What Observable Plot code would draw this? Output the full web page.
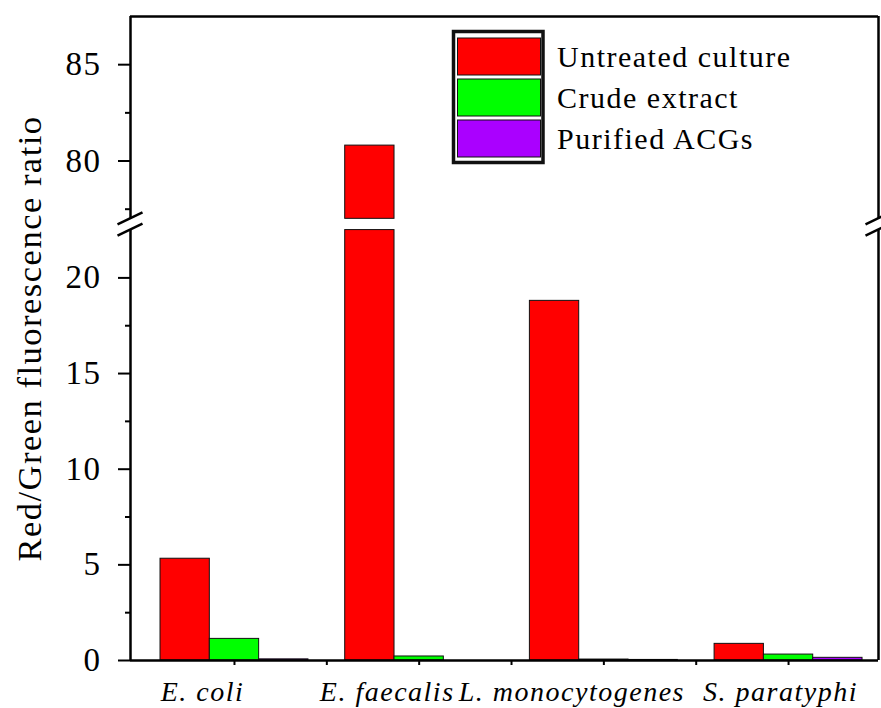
<!DOCTYPE html>
<html>
<head>
<meta charset="utf-8">
<script src="https://cdn.jsdelivr.net/npm/d3@7"></script>
<script src="https://cdn.jsdelivr.net/npm/@observablehq/plot@0.6"></script>
<style>
  html, body { margin: 0; padding: 0; background: #fff; }
  #chart svg { display: block; }
  #chart svg text { letter-spacing: 1.5px; }
</style>
</head>
<body>
<div id="chart"></div>
<script>
// Red/Green fluorescence ratio per bacterium and treatment
const species = ["E. coli", "E. faecalis", "L. monocytogenes", "S. paratyphi"];
const treatments = ["Untreated culture", "Crude extract", "Purified ACGs"];
const treatmentColors = ["#ff0000", "#00ff00", "#aa00ff"];

const untreated = [5.32, 80.8, 18.8, 0.87];
const crudeExtract = [1.13, 0.21, 0.05, 0.31];
const purifiedACGs = [0.06, 0.0, 0.03, 0.14];

const majorTicks = [0, 5, 10, 15, 20, 80, 85];
const minorTicks = [2.5, 7.5, 12.5, 17.5, 77.5, 82.5];
const groupTicks = [0, 0.5, 1, 1.5, 2, 2.5, 3];

const yTitle = "Red/Green fluorescence ratio";

// broken y axis: lower segment 0–22.5, upper segment 77–87.5
const LOWER_MAX = 22.5;
const UPPER_MIN = 77;
const UPPER_MAX = 87.5;

const W = 881, H = 708;
const M = {top: 16, right: 3, bottom: 48, left: 130};
const PX_LOW = 19.13, PX_HIGH = 19.27;     // pixels per unit in each segment
const yBottom = H - M.bottom;
const yLowTop = yBottom - LOWER_MAX * PX_LOW;
const yHighBottom = M.top + (UPPER_MAX - UPPER_MIN) * PX_HIGH;

const BAR = 0.267;                          // bar width in category units
const X_DOMAIN = [-0.563, 3.487];

const seriesValues = [untreated, crudeExtract, purifiedACGs];
const rows = species.flatMap((s, i) =>
  seriesValues.map((vals, j) => ({species: s, i, j, treatment: treatments[j], value: vals[i]}))
);

const barX1 = d => d.i + (d.j - 1.5) * BAR;
const barX2 = d => d.i + (d.j - 0.5) * BAR;

const serif = "'Liberation Serif', 'Times New Roman', Times, serif";
const labelStyle = {
  x: (d, i) => i, frameAnchor: "bottom", lineAnchor: "bottom",
  dy: 40, fontSize: 28, fontStyle: "italic", fill: "black"
};
const last = species.length - 1;

const plot = Plot.plot({
  width: W,
  height: H,
  marginTop: M.top,
  marginRight: M.right,
  marginBottom: M.bottom,
  marginLeft: M.left,
  style: {fontFamily: serif, background: "white", color: "black", overflow: "visible"},
  x: {type: "linear", domain: X_DOMAIN, axis: null},
  y: {
    type: "linear",
    domain: [0, LOWER_MAX, UPPER_MIN, UPPER_MAX],
    range: [yBottom, yLowTop, yHighBottom, M.top],
    axis: null
  },
  color: {domain: treatments, range: treatmentColors},
  marks: [
    // lower part of every bar
    Plot.rect(rows, {
      x1: barX1, x2: barX2,
      y1: 0, y2: d => Math.min(d.value, LOWER_MAX),
      fill: "treatment", stroke: "#111", strokeWidth: 1
    }),
    // upper part for values above the break
    Plot.rect(rows.filter(d => d.value > UPPER_MIN), {
      x1: barX1, x2: barX2,
      y1: UPPER_MIN, y2: "value",
      fill: "treatment", stroke: "#111", strokeWidth: 1
    }),
    // frame, interrupted at the break
    Plot.ruleX(X_DOMAIN, {y1: 0, y2: LOWER_MAX, strokeWidth: 2.5}),
    Plot.ruleX(X_DOMAIN, {y1: UPPER_MIN, y2: UPPER_MAX, strokeWidth: 2.5}),
    Plot.ruleY([UPPER_MAX], {strokeWidth: 2.5}),
    Plot.ruleY([0], {strokeWidth: 2.5}),
    // y axis
    Plot.axisY(majorTicks, {
      tickSize: 12, tickPadding: 17, fontSize: 33, strokeWidth: 2,
      tickFormat: d => String(d), label: null
    }),
    Plot.axisY(minorTicks, {tickSize: 5, strokeWidth: 2, tickFormat: () => "", label: null}),
    // x axis ticks
    Plot.axisX(groupTicks, {tickSize: 5, strokeWidth: 2, tickFormat: () => "", label: null}),
    // category labels, nudged left; the last one sits nearer its group
    Plot.text(species, {...labelStyle, filter: (d, i) => i < last, dx: -32}),
    Plot.text(species, {...labelStyle, filter: (d, i) => i === last, dx: -8}),
    // y title, centred on the frame height
    Plot.text([yTitle], {
      frameAnchor: "left", textAnchor: "middle", lineAnchor: "middle",
      dx: -101, rotate: -90, fontSize: 34.5, fill: "black"
    })
  ]
});

document.getElementById("chart").appendChild(plot);

// break marks on both sides of the frame
const svg = d3.select(plot);
const xs = plot.scale("x"), ys = plot.scale("y");
const breakYs = [ys.apply(UPPER_MIN), ys.apply(LOWER_MAX)];
for (const xv of X_DOMAIN) {
  const px = xs.apply(xv);
  for (const py of breakYs) {
    svg.append("line")
      .attr("x1", px - 12.5).attr("y1", py + 6)
      .attr("x2", px + 12.5).attr("y2", py - 6)
      .attr("stroke", "black").attr("stroke-width", 2.5);
  }
}

// legend box
const legend = svg.append("g")
  .attr("font-family", serif).attr("font-size", 30).attr("text-anchor", "start");
legend.append("rect")
  .attr("x", 453.5).attr("y", 31.5).attr("width", 89.5).attr("height", 131)
  .attr("fill", "white").attr("stroke", "#111").attr("stroke-width", 3.5);
treatments.forEach((t, k) => {
  const top = 38 + k * 41;
  legend.append("rect")
    .attr("x", 457.5).attr("y", top).attr("width", 83).attr("height", 37)
    .attr("fill", treatmentColors[k]).attr("stroke", "#111").attr("stroke-width", 1);
  legend.append("text")
    .attr("x", 557).attr("y", top + 29)
    .attr("fill", "black")
    .text(t);
});
</script>
</body>
</html>
